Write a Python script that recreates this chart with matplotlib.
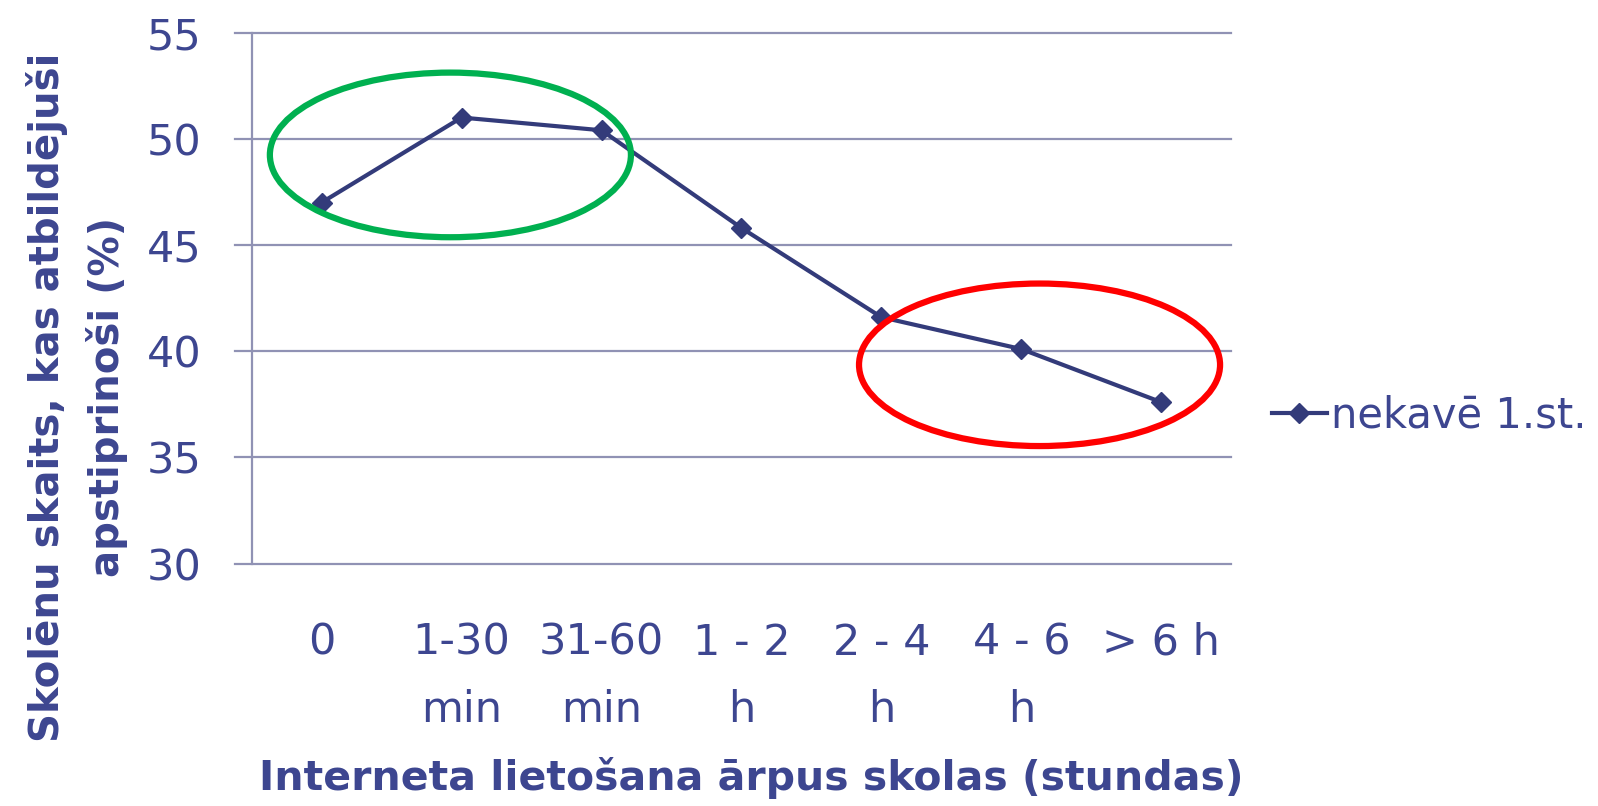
import matplotlib
matplotlib.use("Agg")
import matplotlib.pyplot as plt
from matplotlib.patches import Ellipse

# Dati
kategorijas = ["0", "1-30\nmin", "31-60\nmin", "1 - 2\nh", "2 - 4\nh", "4 - 6\nh", "> 6 h"]
nekave = [47.0, 51.0, 50.4, 45.8, 41.6, 40.1, 37.6]
y_ticks = [30, 35, 40, 45, 50, 55]

text_color = "#3D4690"
line_color = "#333B7A"
grid_color = "#9092B4"

plt.rcParams["font.family"] = ["DejaVu Sans"]

fig = plt.figure(figsize=(15.98, 8.06), dpi=100)
ax = fig.add_axes([0.1575, 0.3007, 0.613, 0.6589])

x = list(range(len(kategorijas)))
ax.plot(x, nekave, color=line_color, lw=3, marker="D", markersize=10,
        label="nekavē 1.st.", zorder=3)

ax.set_xlim(-0.5, len(kategorijas) - 0.5)
ax.set_ylim(30, 55)
ax.set_yticks(y_ticks)
ax.set_xticks(x)
ax.set_xticklabels(kategorijas, fontsize=31, color=text_color, linespacing=1.75)

# gridlines extend past the axis like Excel tick marks
for v in y_ticks:
    ax.plot([-0.62, len(kategorijas) - 0.5], [v, v], color=grid_color, lw=1.6,
            clip_on=False, zorder=1)

for s in ["top", "right", "bottom"]:
    ax.spines[s].set_visible(False)
ax.spines["left"].set_color(grid_color)
ax.spines["left"].set_linewidth(1.6)

ax.tick_params(axis="y", length=0, labelsize=31, labelcolor=text_color, pad=36)
ax.tick_params(axis="x", length=0, pad=42)

ax.set_ylabel("Skolēnu skaits, kas atbildējuši\napstiprinoši (%)", fontsize=29,
              fontweight="bold", color=text_color, linespacing=1.55)
ax.yaxis.set_label_coords(-0.126, 0.313)
ax.set_xlabel("Interneta lietošana ārpus skolas (stundas)", fontsize=29.5,
              fontweight="bold", color=text_color)
ax.xaxis.set_label_coords(0.51, -0.364)

# iezīmētās zonas
ax.add_patch(Ellipse((0.92, 49.24), 2.58, 7.75, fill=False, edgecolor="#00B050",
                     lw=4.5, clip_on=False, zorder=4))
ax.add_patch(Ellipse((5.13, 39.36), 2.58, 7.65, fill=False, edgecolor="#FF0000",
                     lw=4.5, clip_on=False, zorder=4))

leg = ax.legend(loc="center left", bbox_to_anchor=(1.042, 0.278), frameon=False,
                fontsize=30, handlelength=1.3, handletextpad=0.1,
                borderpad=0, borderaxespad=0)
for t in leg.get_texts():
    t.set_color(text_color)

fig.savefig("out.png", dpi=100)
